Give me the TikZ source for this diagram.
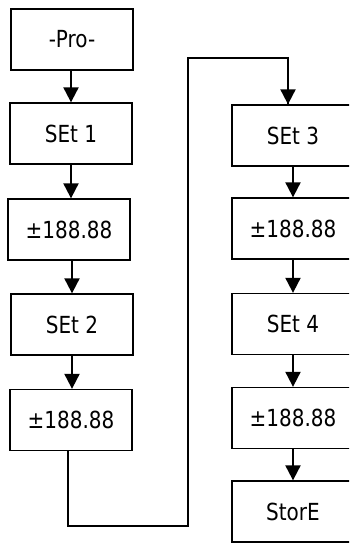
\documentclass[tikz,border=0pt]{standalone}
\usepackage{fontspec}
\setmainfont{DejaVu Sans}[FakeStretch=0.85]
\usetikzlibrary{arrows.meta,calc}
\begin{document}
\begin{tikzpicture}[x=1pt,y=-1pt,
  box/.style={draw=black,line width=1.3pt,minimum width=122pt,minimum height=61pt,
    inner sep=0pt,font=\fontsize{23.5}{28}\selectfont},
  link/.style={line width=2pt,-{Triangle[length=15pt,width=15pt]}},
  wire/.style={line width=2pt}]
\useasboundingbox (0,0) rectangle (349,543);
\clip (0,0) rectangle (349,543);
\fill[white] (0,0) rectangle (349,543);
% left column
\node[box] (pro) at (72,39.5) {-Pro-};
\node[box] (s1) at (71,133.5) {SEt 1};
\node[box] (v1) at (69,229.5) {±188.88};
\node[box] (s2) at (72,324.5) {SEt 2};
\node[box] (v2) at (71,420) {±188.88};
% right column
\node[box] (s3) at (293,135.5) {SEt 3};
\node[box] (v3) at (293,228.5) {±188.88};
\node[box] (s4) at (293,324) {SEt 4};
\node[box] (v4) at (293,418) {±188.88};
\node[box] (st) at (293,511.5) {StorE};
% arrows
\draw[link] (pro.south -| s1.north) -- (s1.north);
\draw[link] (s1.south) -- (s1.south |- v1.north);
\draw[link] (v1.south -| s2.north) -- (s2.north);
\draw[link] (s2.south) -- (s2.south |- v2.north);
\draw[link] (s3.south) -- (v3.north);
\draw[link] (v3.south) -- (s4.north);
\draw[link] (s4.south) -- (v4.north);
\draw[link] (v4.south) -- (st.north);
% loop connector
\coordinate (c0) at (68,0);
\coordinate (c1) at (68,526);
\coordinate (c2) at (188,526);
\coordinate (c3) at (188,58);
\coordinate (c4) at (288,58);
\draw[wire] (v2.south -| c0) -- (c1) -- (c2) -- (c3) -- (c4) -- (c4 |- s3.north);
\draw[link] ($(c4)+(0,-1)$) -- (c4 |- s3.north);
\end{tikzpicture}
\end{document}
